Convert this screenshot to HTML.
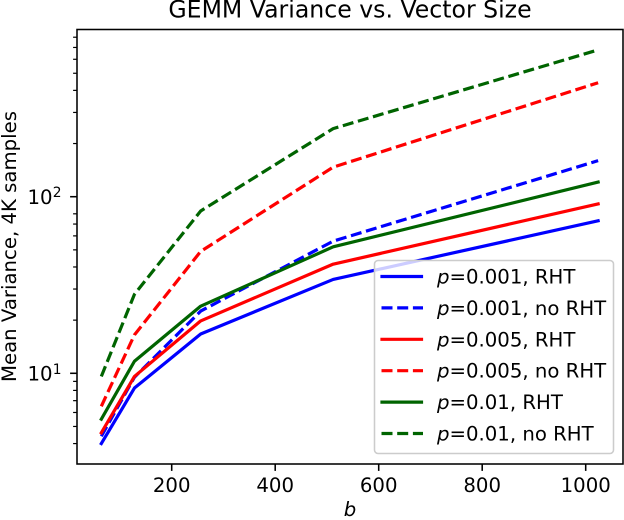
<!DOCTYPE html>
<html>
<head>
<meta charset="utf-8">
<title>GEMM Variance vs. Vector Size</title>
<style>
html,body{margin:0;padding:0;background:#fff;width:624px;height:520px;overflow:hidden}
svg{display:block}
text{font-family:"DejaVu Sans",sans-serif;fill:#000}
</style>
</head>
<body>
<svg id="chart" xmlns="http://www.w3.org/2000/svg" width="624" height="520" viewBox="0 0 624 520"></svg>
<script>
const vectorSizes = [64, 128, 256, 512, 1024];
const p001Rht = [4.0, 8.25, 16.7, 34, 73];
const p001NoRht = [4.4, 9.5, 22.5, 56, 160];
const p005Rht = [4.6, 9.6, 19.8, 41.5, 91];
const p005NoRht = [6.5, 16.5, 49, 147, 442];
const p01Rht = [5.5, 11.7, 24, 52, 121];
const p01NoRht = [9.6, 28, 83, 243, 678];
const xTickValues = [200, 400, 600, 800, 1000];
const yMajorTicks = [10, 100];
const yMinorTicks = [4, 5, 6, 7, 8, 9, 20, 30, 40, 50, 60, 70, 80, 200, 300, 400, 500, 600, 700, 800];

const NS = 'http://www.w3.org/2000/svg';
const svg = document.getElementById('chart');
const L = 77, R = 623, T = 29.5, B = 464;
const FONT = 19.7, LW = 3.2;
const SOLID = 'none', DASH = '11,4.7';

function xScale(b) { return 171.7 + (b - 200) * 0.5175; }
function yScale(v) { return 373.3 - 176.6 * Math.log10(v / 10); }

function make(tag, attrs, parent) {
  const el = document.createElementNS(NS, tag);
  for (const k in attrs) el.setAttribute(k, attrs[k]);
  (parent || svg).appendChild(el);
  return el;
}

const series = [
  { key: 'p-0-001-rht', p: '0.001', tail: ', RHT', color: '#0000ff', dash: SOLID, values: p001Rht },
  { key: 'p-0-001-no-rht', p: '0.001', tail: ', no RHT', color: '#0000ff', dash: DASH, values: p001NoRht },
  { key: 'p-0-005-rht', p: '0.005', tail: ', RHT', color: '#ff0000', dash: SOLID, values: p005Rht },
  { key: 'p-0-005-no-rht', p: '0.005', tail: ', no RHT', color: '#ff0000', dash: DASH, values: p005NoRht },
  { key: 'p-0-01-rht', p: '0.01', tail: ', RHT', color: '#006400', dash: SOLID, values: p01Rht },
  { key: 'p-0-01-no-rht', p: '0.01', tail: ', no RHT', color: '#006400', dash: DASH, values: p01NoRht }
];

// Series lines
series.forEach(function (s) {
  const pts = vectorSizes.map(function (b, i) {
    return xScale(b).toFixed(2) + ',' + yScale(s.values[i]).toFixed(2);
  }).join(' ');
  const line = make('polyline', { points: pts, fill: 'none', stroke: s.color, 'stroke-width': LW, 'stroke-linejoin': 'round', 'stroke-linecap': s.dash === SOLID ? 'square' : 'butt', 'stroke-dasharray': s.dash });
  
  
});

// X ticks
xTickValues.forEach(function (t) {
  const x = xScale(t);
  const tick = make('line', { x1: x, x2: x, y1: B, y2: B + 6.9, stroke: '#000', 'stroke-width': 1.55 });
  
  
  const label = make('text', { x: x, y: 492, 'text-anchor': 'middle', 'font-size': FONT });
  label.textContent = String(t);
  
  
});

// Y ticks
yMajorTicks.forEach(function (v) {
  const y = yScale(v);
  const tick = make('line', { x1: L - 6.9, x2: L, y1: y, y2: y, stroke: '#000', 'stroke-width': 1.55 });
  
  
  const label = make('text', { x: 27.5, y: y + 7.4, 'font-size': FONT });
  label.textContent = '10';
  
  
  const sup = make('text', { x: 52.7, y: y + 0.5, 'font-size': 13.8 });
  sup.textContent = String(Math.round(Math.log10(v)));
  
  
});
yMinorTicks.forEach(function (v) {
  const y = yScale(v);
  const tick = make('line', { x1: L - 3.9, x2: L, y1: y, y2: y, stroke: '#000', 'stroke-width': 1.2 });
  
  
});

// Axes frame
const frame = make('rect', { x: L, y: T, width: R - L, height: B - T, fill: 'none', stroke: '#000', 'stroke-width': 1.55 });



// Titles
const title = make('text', { x: 350, y: 17.5, 'text-anchor': 'middle', 'font-size': 23.6 });
title.textContent = 'GEMM Variance vs. Vector Size';



const xTitle = make('text', { x: 350, y: 516, 'text-anchor': 'middle', 'font-size': FONT, 'font-style': 'italic' });
xTitle.textContent = 'b';



const yTitle = make('text', { x: 0, y: 0, transform: 'translate(16 246.5) rotate(-90)', 'text-anchor': 'middle', 'font-size': FONT });
yTitle.textContent = 'Mean Variance, 4K samples';



// Legend
const legend = make('g', {});


const legendBox = make('rect', { x: 374.5, y: 260.5, width: 239, height: 193, rx: 3.5, ry: 3.5, fill: '#fff', 'fill-opacity': 0.8, stroke: '#cccccc', 'stroke-width': 1.55 }, legend);



series.forEach(function (s, i) {
  const y = 276.5 + i * 31.4;
  const solid = s.dash === SOLID;
  const handle = make('line', { x1: solid ? 382 : 381.5, x2: solid ? 421.5 : 423, y1: y, y2: y, stroke: s.color, 'stroke-width': LW, 'stroke-linecap': solid ? 'square' : 'butt', 'stroke-dasharray': s.dash }, legend);
  
  
  const label = make('text', { x: 437, y: y + 7, 'font-size': FONT }, legend);
  
  
  const pVar = make('tspan', { 'font-style': 'italic' }, label);
  pVar.textContent = 'p';
  const rest = make('tspan', {}, label);
  rest.textContent = '=' + s.p + s.tail;
});
</script>
</body>
</html>
